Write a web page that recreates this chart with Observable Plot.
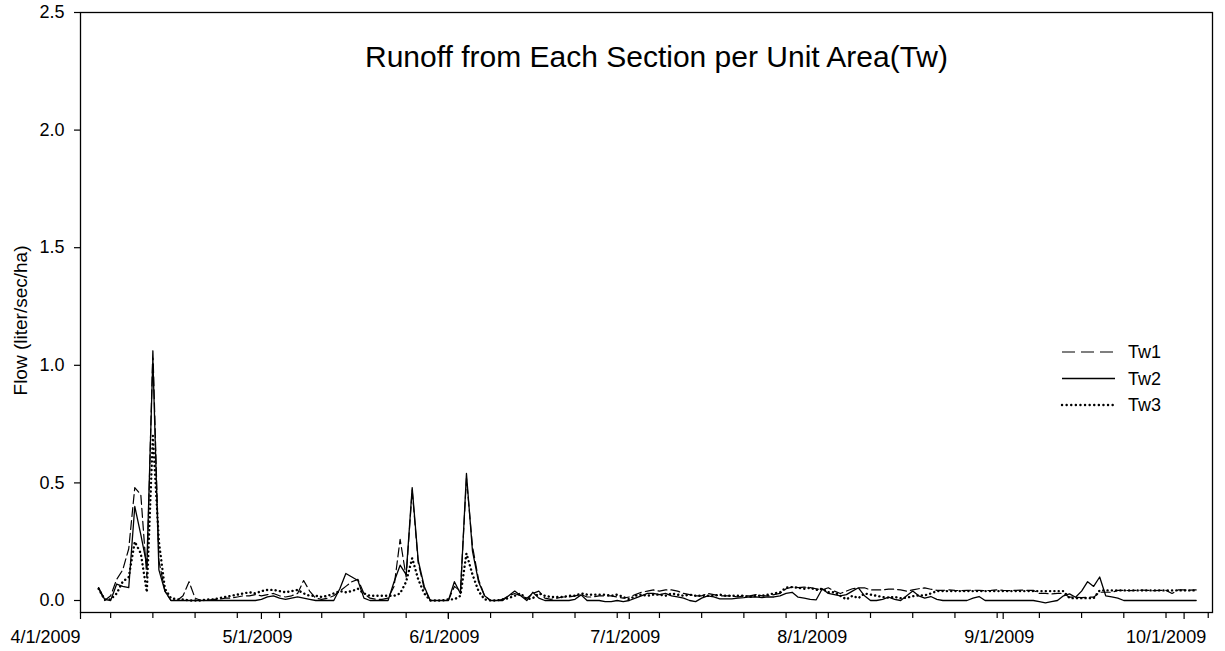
<!DOCTYPE html>
<html>
<head>
<meta charset="utf-8">
<script src="https://cdn.jsdelivr.net/npm/d3@7"></script>
<script src="https://cdn.jsdelivr.net/npm/@observablehq/plot@0.6"></script>
<style>
  html, body { margin: 0; padding: 0; background: #fff; }
  #wrap { position: relative; width: 1225px; height: 651px; font-family: "Liberation Sans", Arial, sans-serif; }
  #legend { position: absolute; left: 0; top: 0; }
</style>
</head>
<body>
<div id="wrap"></div>
<script>
// ---- data (daily values starting 2009-04-04) ----
const firstDay = "2009-04-04";
const seriesNames = ["Tw1", "Tw2", "Tw3"];

const tw1 = [
  0.05, 0.0, 0.02, 0.09, 0.13, 0.22, 0.48, 0.45, 0.10, 1.07,
  0.17, 0.04, 0.0, 0.0, 0.02, 0.08, 0.01, 0.0, 0.0, 0.005,
  0.005, 0.01, 0.01, 0.015, 0.02, 0.02, 0.025, 0.02, 0.025, 0.03,
  0.02, 0.015, 0.02, 0.03, 0.085, 0.04, 0.01, 0.005, 0.01, 0.02,
  0.04, 0.06, 0.08, 0.09, 0.03, 0.01, 0.005, 0.005, 0.01, 0.06,
  0.26, 0.10, 0.47, 0.16, 0.05, 0.0, 0.0, 0.0, 0.0, 0.06,
  0.04, 0.52, 0.23, 0.09, 0.02, 0.0, 0.0, 0.005, 0.02, 0.03,
  0.02, 0.01, 0.03, 0.04, 0.01, 0.005, 0.01, 0.015, 0.015, 0.02,
  0.025, 0.015, 0.015, 0.02, 0.02, 0.02, 0.015, 0.01, 0.015, 0.025,
  0.035, 0.04, 0.045, 0.04, 0.045, 0.045, 0.04, 0.03, 0.025, 0.02,
  0.02, 0.03, 0.025, 0.02, 0.02, 0.02, 0.015, 0.02, 0.02, 0.025,
  0.02, 0.02, 0.025, 0.03, 0.05, 0.057, 0.055, 0.057, 0.055, 0.05,
  0.045, 0.054, 0.04, 0.03, 0.04, 0.05, 0.054, 0.054, 0.045, 0.045,
  0.045, 0.048, 0.048, 0.045, 0.04, 0.045, 0.05, 0.054, 0.048, 0.043,
  0.043, 0.045, 0.043, 0.042, 0.043, 0.044, 0.043, 0.042, 0.043, 0.045,
  0.043, 0.042, 0.043, 0.044, 0.043, 0.043, 0.03, 0.03, 0.028, 0.03,
  0.03, 0.014, 0.014, 0.012, 0.014, 0.014, 0.035, 0.035, 0.035, 0.043,
  0.043, 0.042, 0.043, 0.044, 0.043, 0.042, 0.043, 0.043, 0.03, 0.045,
  0.045, 0.044, 0.045
];

const tw2 = [
  0.055, 0.005, 0.0, 0.07, 0.06, 0.055, 0.40, 0.28, 0.15, 1.03,
  0.13, 0.04, 0.0, 0.0, 0.0, 0.0, 0.0, 0.0, 0.0, 0.0,
  0.0, 0.0, 0.0, 0.0, 0.0, 0.0, 0.0, 0.005, 0.015, 0.02,
  0.01, 0.005, 0.01, 0.015, 0.01, 0.005, 0.0, 0.0, 0.0, 0.0,
  0.05, 0.115, 0.10, 0.085, 0.01, 0.0, 0.0, 0.0, 0.0, 0.08,
  0.15, 0.11, 0.48, 0.17, 0.06, 0.0, 0.0, 0.0, 0.0, 0.08,
  0.03, 0.54, 0.21, 0.08, 0.02, 0.0, 0.0, 0.0, 0.02, 0.04,
  0.02, 0.0, 0.035, 0.01, 0.0, 0.0, 0.0, 0.0, 0.0, 0.005,
  0.024, 0.0, 0.0, 0.0, -0.005, -0.005, 0.0, -0.005, 0.0, 0.01,
  0.02, 0.03, 0.03, 0.025, 0.03, 0.02, 0.015, 0.01, 0.0, -0.005,
  0.01, 0.02, 0.015, 0.007, 0.007, 0.007, 0.01, 0.012, 0.015, 0.015,
  0.012, 0.015, 0.015, 0.02, 0.03, 0.035, 0.014, 0.01, 0.005, 0.003,
  0.05, 0.03, 0.025, 0.02, 0.025, 0.04, 0.054, 0.02, 0.0, 0.0,
  0.005, 0.014, 0.005, 0.0, 0.02, 0.04, 0.02, 0.01, 0.017, 0.005,
  0.0, 0.0, 0.0, 0.0, 0.0, 0.01, 0.017, 0.0, 0.0, 0.0,
  0.0, 0.0, 0.0, 0.0, 0.0, 0.0, -0.005, -0.01, -0.005, 0.0,
  0.02, 0.028, 0.014, 0.04, 0.08, 0.06, 0.10, 0.02, 0.015, 0.01,
  0.0, 0.0, 0.0, 0.0, 0.0, 0.0, 0.0, 0.0, 0.0, 0.0,
  0.0, 0.0, 0.0
];

const tw3 = [
  0.05, 0.005, 0.005, 0.03, 0.08, 0.10, 0.25, 0.20, 0.035, 0.70,
  0.25, 0.05, 0.01, 0.005, 0.005, 0.0, 0.0, 0.0, 0.005, 0.005,
  0.01, 0.015, 0.02, 0.025, 0.03, 0.035, 0.03, 0.04, 0.045, 0.045,
  0.04, 0.035, 0.04, 0.045, 0.03, 0.02, 0.02, 0.015, 0.02, 0.03,
  0.04, 0.035, 0.04, 0.05, 0.03, 0.02, 0.02, 0.02, 0.02, 0.02,
  0.03, 0.08, 0.18, 0.09, 0.03, 0.0, 0.0, 0.0, 0.005, 0.005,
  0.02, 0.20, 0.11, 0.04, 0.005, 0.0, 0.0, 0.005, 0.01, 0.02,
  0.03, 0.005, 0.01, 0.03, 0.02, 0.015, 0.015, 0.015, 0.02, 0.02,
  0.03, 0.025, 0.025, 0.025, 0.025, 0.02, 0.025, 0.015, 0.005, 0.02,
  0.025, 0.02, 0.025, 0.025, 0.02, 0.03, 0.025, 0.02, 0.025, 0.02,
  0.02, 0.02, 0.02, 0.025, 0.02, 0.02, 0.02, 0.02, 0.015, 0.02,
  0.02, 0.025, 0.03, 0.035, 0.055, 0.057, 0.054, 0.05, 0.054, 0.045,
  0.05, 0.035, 0.035, 0.02, 0.005, 0.02, 0.01, 0.03, 0.025, 0.02,
  0.015, 0.012, 0.015, 0.01, 0.012, 0.018, 0.022, 0.022, 0.03, 0.04,
  0.04, 0.04, 0.04, 0.04, 0.04, 0.04, 0.04, 0.04, 0.04, 0.04,
  0.04, 0.04, 0.04, 0.04, 0.04, 0.04, 0.04, 0.04, 0.04, 0.04,
  0.04, 0.01, 0.01, 0.01, 0.01, 0.01, 0.043, 0.043, 0.043, 0.043,
  0.043, 0.043, 0.043, 0.043, 0.043, 0.043, 0.043, 0.043, 0.043, 0.043,
  0.043, 0.043, 0.043
];

const yTicks = [0.0, 0.5, 1.0, 1.5, 2.0, 2.5];
const monthTicks = ["2009-04-01", "2009-05-01", "2009-06-01", "2009-07-01", "2009-08-01", "2009-09-01", "2009-10-01"];
const xDomain = ["2009-04-01", "2009-10-05T17:00"];
const titleText = "Runoff from Each Section per Unit Area(Tw)";
const yLabel = "Flow (liter/sec/ha)";

// ---- build table ----
const start = new Date(firstDay);
const rows = [];
[tw1, tw2, tw3].forEach((arr, k) => {
  arr.forEach((v, i) => rows.push({date: d3.utcDay.offset(start, i), value: v, series: seriesNames[k]}));
});
const byName = name => rows.filter(r => r.series === name);

const dom = xDomain.map(s => new Date(s));
const majors = monthTicks.map(s => new Date(s));
const minors = d3.utcMonday.range(dom[0], dom[1]);
const fmt = d3.utcFormat("%-m/%-d/%Y");
const font = "'Liberation Sans', Arial, sans-serif";

const chart = Plot.plot({
  width: 1225,
  height: 651,
  marginLeft: 80,
  marginRight: 13,
  marginTop: 12,
  marginBottom: 39,
  style: {fontFamily: font, fontSize: "18px", color: "#000", background: "#fff"},
  x: {type: "utc", domain: dom},
  y: {domain: [-0.051, 2.5]},
  marks: [
    Plot.frame({stroke: "#000", strokeWidth: 1.3}),
    Plot.axisY({ticks: yTicks, tickSize: 6, tickPadding: 10, tickFormat: d3.format(".1f"), label: null, fontSize: 18, strokeWidth: 1.2}),
    Plot.axisX({ticks: minors, tickSize: 6, tickFormat: () => "", label: null, strokeWidth: 1.2}),
    Plot.axisX({ticks: majors, tickSize: 7, tickFormat: () => "", label: null, strokeWidth: 1.2}),
    Plot.text(majors.slice(0, 1), {x: d => d, frameAnchor: "bottom", dy: 25, lineAnchor: "middle", text: d => fmt(d), textAnchor: "end", fontSize: 18}),
    Plot.text(majors.slice(1, 6), {x: d => d, frameAnchor: "bottom", dy: 25, lineAnchor: "middle", dx: -4, text: d => fmt(d), fontSize: 18}),
    Plot.text(majors.slice(6), {x: d => d, frameAnchor: "bottom", dy: 25, lineAnchor: "middle", dx: -18, text: d => fmt(d), fontSize: 18}),
    Plot.text([yLabel], {frameAnchor: "left", textAnchor: "middle", lineAnchor: "middle", dx: -60, dy: 8, rotate: -90, fontSize: 19}),
    Plot.text([titleText], {frameAnchor: "top", textAnchor: "middle", lineAnchor: "middle", dx: 10, dy: 45, fontSize: 30}),
    Plot.line(byName("Tw1"), {x: "date", y: "value", stroke: "#000", strokeWidth: 1.2, strokeDasharray: "9,4"}),
    Plot.line(byName("Tw3"), {x: "date", y: "value", stroke: "#000", strokeWidth: 2.4, strokeDasharray: "0.1,4.2", strokeLinecap: "round"}),
    Plot.line(byName("Tw2"), {x: "date", y: "value", stroke: "#000", strokeWidth: 1.3})
  ]
});

const wrap = document.getElementById("wrap");
wrap.appendChild(chart);

// ---- legend overlay ----
const legendStyles = [
  {name: "Tw1", dash: "13,6", width: 1.2, cap: "butt"},
  {name: "Tw2", dash: null, width: 1.3, cap: "butt"},
  {name: "Tw3", dash: "0.1,4.5", width: 2.4, cap: "round"}
];
const svg = d3.select(wrap).append("svg").attr("id", "legend").attr("width", 1225).attr("height", 651);
const g = svg.append("g").attr("transform", "translate(1062,352)");
legendStyles.forEach((s, i) => {
  const row = g.append("g").attr("transform", `translate(0,${i * 26.5})`);
  const ln = row.append("line").attr("x1", 0).attr("x2", 53).attr("y1", 0).attr("y2", 0)
    .attr("stroke", "#000").attr("stroke-width", s.width).attr("stroke-linecap", s.cap);
  if (s.dash) ln.attr("stroke-dasharray", s.dash);
  row.append("text").attr("x", 66).attr("y", 0).attr("dy", "0.35em")
    .attr("font-family", font).attr("font-size", 18).text(s.name);
});
</script>
</body>
</html>
